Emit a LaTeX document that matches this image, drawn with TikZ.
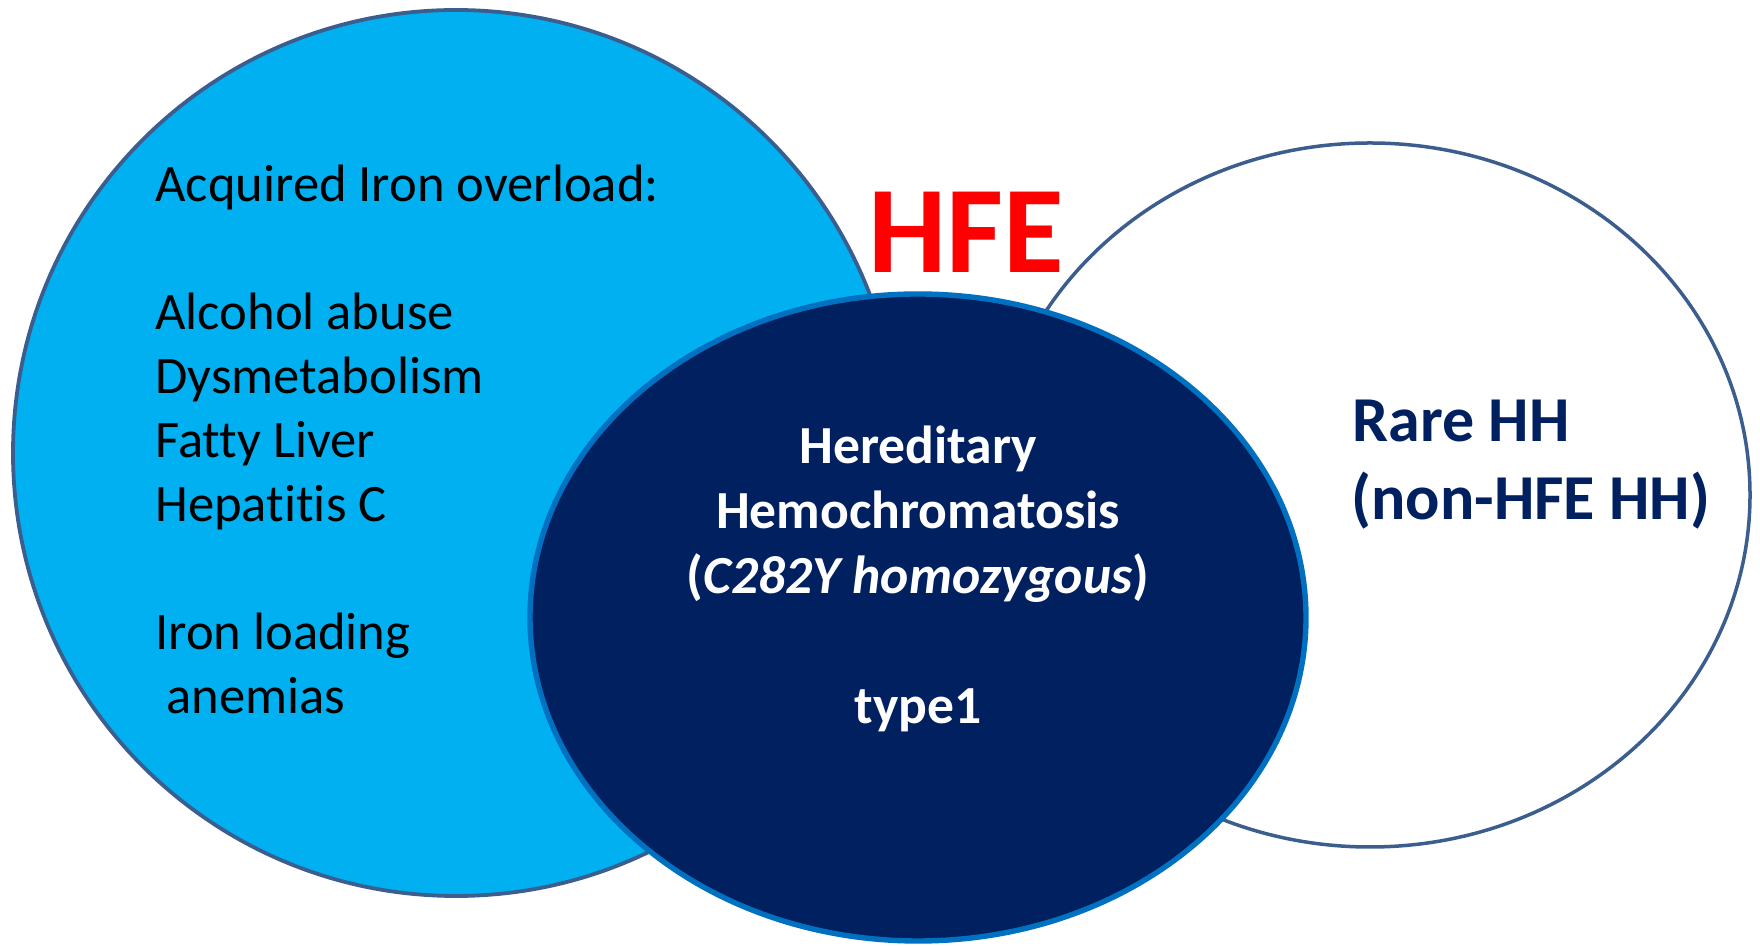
\documentclass[tikz,border=0pt]{standalone}
\usepackage{fontspec}
\setmainfont{Carlito}[Ligatures=NoCommon]
\definecolor{skyfill}{HTML}{00B0F0}
\definecolor{navyfill}{HTML}{002060}
\definecolor{coreline}{HTML}{0070C0}
\definecolor{rimline}{HTML}{3B5E8E}
\definecolor{hfered}{HTML}{FF0000}
\tikzset{
	setline/.style = {draw=rimline, line width=1.9pt},
	plaintxt/.style = {inner sep=0pt, anchor=base west, font=\fontsize{26.3}{32}\selectfont},
	coretxt/.style = {inner sep=0pt, anchor=base, text=white, font=\fontsize{26.8}{32}\selectfont\bfseries},
	raretxt/.style = {inner sep=0pt, anchor=base west, text=navyfill, font=\fontsize{32}{38}\selectfont\bfseries}
}

\begin{document}
\begin{tikzpicture}[x=0.5pt, y=0.5pt]
	\useasboundingbox (0,0) rectangle (1760,946);
	% the three sets
	\draw[setline, fill=skyfill] (456,493) circle [radius=443];
	\draw[setline, line width=1.75pt, fill=white] (1370,451) ellipse [x radius=380, y radius=352];
	\draw[draw=coreline, line width=2.7pt, fill=navyfill] (918,328.5) ellipse [x radius=388, y radius=323.5];
	% acquired overload
	\node[plaintxt] (acq) at (155,744) {Acquired Iron overload:};
	\node[plaintxt] (alc) at (155,616) {Alcohol abuse};
	\node[plaintxt] (dys) at (155,552) {Dysmetabolism};
	\node[plaintxt] (fat) at (155,488) {Fatty Liver};
	\node[plaintxt] (hep) at (155,424) {Hepatitis C};
	\node[plaintxt] (ilo) at (155,296) {Iron loading};
	\node[plaintxt] (ane) at (166,232) {anemias};
	% HFE core
	\node[inner sep=0pt, anchor=base, text=hfered, font=\fontsize{62}{70}\selectfont\bfseries] (hfe) at (966,673) {HFE};
	\node[coretxt] (her) at (918,482) {Hereditary};
	\node[coretxt] (hem) at (918,417) {Hemochromatosis};
	\node[coretxt] (cys) at (918,352) {(\textit{C282Y homozygous})};
	\node[coretxt] (ty1) at (918,222) {type1};
	% non-HFE
	\node[raretxt] (rar) at (1352,504) {Rare HH};
	\node[raretxt] (non) at (1351,426) {(non-HFE HH)};
\end{tikzpicture}
\end{document}
